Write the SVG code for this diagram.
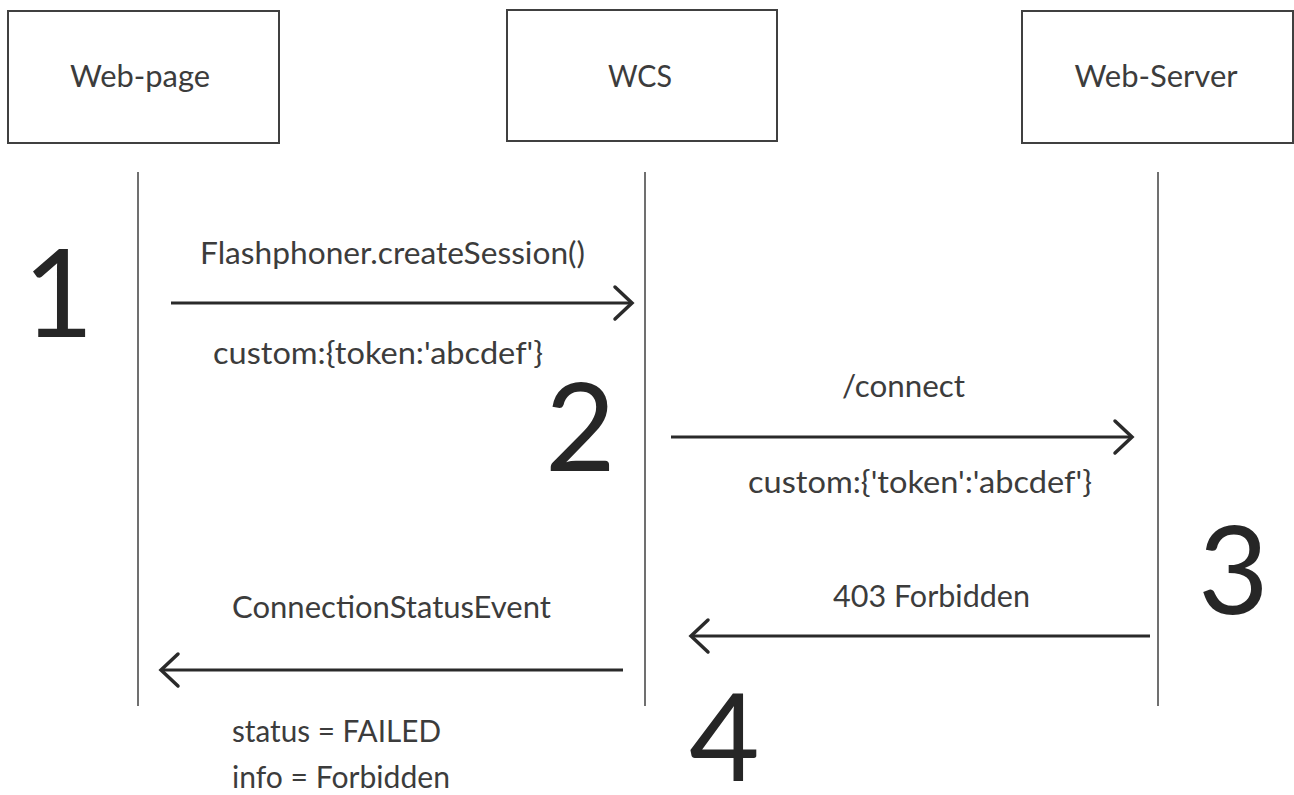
<svg xmlns="http://www.w3.org/2000/svg" width="1294" height="795" viewBox="0 0 1294 795">
<style>
.box{fill:#fff;stroke:#404040;stroke-width:2}
.life{stroke:#404040;stroke-width:1.5;fill:none}
.msg{stroke:#2a2a2a;stroke-width:3;fill:none}
.head{stroke:#2a2a2a;stroke-width:3.5;fill:none;stroke-linecap:round;stroke-linejoin:miter}
.lbl{font-family:Lato,"Liberation Sans",sans-serif;font-size:31px;fill:#3c3c3c}
.name{font-family:Lato,"Liberation Sans",sans-serif;font-size:31px;fill:#3c3c3c;text-anchor:middle}
.num{font-family:Lato,"Liberation Sans",sans-serif;font-size:122px;fill:#262626}
</style>
<rect width="1294" height="795" fill="#fff"/>
<g id="node-webpage">
<rect class="box" x="8" y="11" width="271" height="132"/>
<text class="name" x="140" y="87" textLength="140" lengthAdjust="spacingAndGlyphs">Web-page</text>
</g>
<g id="node-wcs">
<rect class="box" x="507" y="10" width="270" height="131"/>
<text class="name" x="640" y="87" textLength="64" lengthAdjust="spacingAndGlyphs">WCS</text>
</g>
<g id="node-webserver">
<rect class="box" x="1022" y="11" width="271" height="132"/>
<text class="name" x="1156" y="87" textLength="163" lengthAdjust="spacingAndGlyphs">Web-Server</text>
</g>
<g id="lifelines">
<line class="life" x1="138" y1="172" x2="138" y2="706"/>
<line class="life" x1="645" y1="172" x2="645" y2="706"/>
<line class="life" x1="1158" y1="172" x2="1158" y2="706"/>
</g>
<g id="connectors">
<line class="msg" x1="171" y1="303" x2="632" y2="303"/>
<polyline class="head" points="615,287 632,303 615,319"/>
<line class="msg" x1="671" y1="437" x2="1132" y2="437"/>
<polyline class="head" points="1115,421 1132,437 1115,453"/>
<line class="msg" x1="1150" y1="636" x2="691" y2="636"/>
<polyline class="head" points="708,620 691,636 708,652"/>
<line class="msg" x1="623" y1="670" x2="161" y2="670"/>
<polyline class="head" points="178,654 161,670 178,686"/>
</g>
<g id="labels">
<text class="lbl" x="200" y="264" textLength="385" lengthAdjust="spacingAndGlyphs">Flashphoner.createSession()</text>
<text class="lbl" x="213" y="364" textLength="330" lengthAdjust="spacingAndGlyphs">custom:{token:'abcdef'}</text>
<text class="lbl" x="842" y="397" textLength="123" lengthAdjust="spacingAndGlyphs">/connect</text>
<text class="lbl" x="748" y="493" textLength="344" lengthAdjust="spacingAndGlyphs">custom:{'token':'abcdef'}</text>
<text class="lbl" x="833" y="607" textLength="197" lengthAdjust="spacingAndGlyphs">403 Forbidden</text>
<text class="lbl" x="232" y="618" textLength="319" lengthAdjust="spacingAndGlyphs">ConnectionStatusEvent</text>
<text class="lbl" x="232" y="742" textLength="209" lengthAdjust="spacingAndGlyphs">status = FAILED</text>
<text class="lbl" x="232" y="788" textLength="218" lengthAdjust="spacingAndGlyphs">info = Forbidden</text>
</g>
<g id="step-numbers">
<text class="num" x="23" y="337">1</text>
<text class="num" x="545" y="471">2</text>
<text class="num" x="1198" y="614">3</text>
<text class="num" x="689" y="781">4</text>
</g>
</svg>
